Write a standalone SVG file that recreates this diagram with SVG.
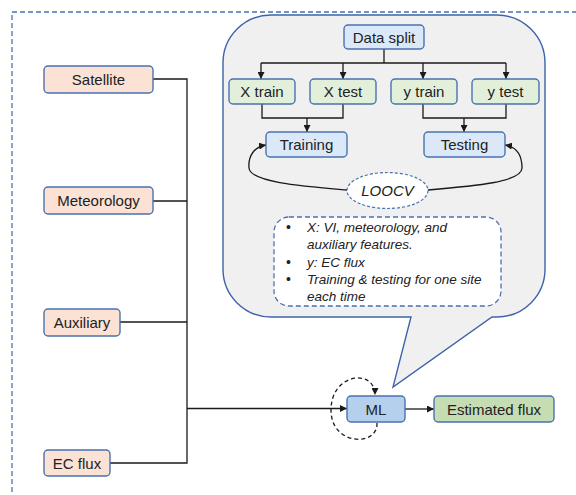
<svg xmlns="http://www.w3.org/2000/svg" width="576" height="495" viewBox="0 0 576 495">
<defs>
<marker id="arr" viewBox="0 0 10 10" refX="10" refY="5" markerWidth="7" markerHeight="7" markerUnits="userSpaceOnUse" orient="auto">
<path d="M0 0 L10 5 L0 10 Z" fill="#1a1a1a"/>
</marker>
<style>
.box{stroke:#4a72b0;stroke-width:1.4}
.src{fill:#fbe2d5}
.blu{fill:#dae8f8}
.grn{fill:#e2efda}
.t{font-family:"Liberation Sans",Arial,sans-serif;font-size:15px;fill:#222;text-anchor:middle;dominant-baseline:central}
.it{font-family:"Liberation Sans",Arial,sans-serif;font-size:13.5px;font-style:italic;fill:#222}
.ln{fill:none;stroke:#1a1a1a;stroke-width:1.3}
</style>
</defs>
<rect width="576" height="495" fill="#ffffff"/>
<rect x="12" y="12" width="620" height="600" fill="none" stroke="#4a72b0" stroke-width="1.3" stroke-dasharray="5,3"/>

<g id="callout">
<path d="M271 15 H497 A48 48 0 0 1 545 63 V269 A48 48 0 0 1 497 317 H492 L393 387 L411 317 H271 A48 48 0 0 1 223 269 V63 A48 48 0 0 1 271 15 Z" fill="#f0f0f0" stroke="#3d64a8" stroke-width="1.4"/>
</g>

<g id="connectors">
<path class="ln" d="M153 79 H187 V463 H110"/>
<path class="ln" d="M153 201 H187"/>
<path class="ln" d="M120 322 H187"/>
<path class="ln" d="M187 408.5 H347" marker-end="url(#arr)"/>
<path class="ln" d="M405 409 H434" marker-end="url(#arr)"/>
<path d="M377 423 C378 447 331 446 331 410 C331 373 375 368 375 395" fill="none" stroke="#1a1a1a" stroke-width="1.3" stroke-dasharray="4,3" marker-end="url(#arr)"/>
<path class="ln" d="M384 49 V63"/>
<path class="ln" d="M261 63 H506"/>
<path class="ln" d="M261 63 V79" marker-end="url(#arr)"/>
<path class="ln" d="M343 63 V79" marker-end="url(#arr)"/>
<path class="ln" d="M423 63 V79" marker-end="url(#arr)"/>
<path class="ln" d="M506 63 V79" marker-end="url(#arr)"/>
<path class="ln" d="M262 104 V118 H343 V104"/>
<path class="ln" d="M307 118 V132" marker-end="url(#arr)"/>
<path class="ln" d="M423 104 V118 H506 V104"/>
<path class="ln" d="M464 118 V132" marker-end="url(#arr)"/>
<path class="ln" d="M347 190 C300 186 250 182 249 168 C248 156 254 147 266 145" marker-end="url(#arr)"/>
<path class="ln" d="M428 190 C475 186 522 182 522 168 C522 156 517 147 505 145" marker-end="url(#arr)"/>
</g>

<g id="satellite"><rect class="box src" x="44" y="66" width="109" height="27" rx="4"/><text class="t" x="98.5" y="79.5">Satellite</text></g>
<g id="meteorology"><rect class="box src" x="44" y="187" width="109" height="27" rx="4"/><text class="t" x="98.5" y="200.5">Meteorology</text></g>
<g id="auxiliary"><rect class="box src" x="44" y="309" width="76" height="27" rx="4"/><text class="t" x="82" y="322.5">Auxiliary</text></g>
<g id="ecflux"><rect class="box src" x="44" y="450" width="66" height="26" rx="4"/><text class="t" x="77" y="463">EC flux</text></g>
<g id="ml"><rect class="box" fill="#b5d0ec" x="347" y="396" width="58" height="26" rx="4"/><text class="t" x="376" y="409">ML</text></g>
<g id="estimated"><rect class="box" fill="#c6dcb2" x="434" y="396" width="120" height="26" rx="4"/><text class="t" x="494" y="409">Estimated flux</text></g>

<g id="datasplit"><rect class="box blu" x="344" y="25" width="80" height="24" rx="4"/><text class="t" x="384" y="37">Data split</text></g>
<g id="xtrain"><rect class="box grn" x="229" y="79" width="66" height="25" rx="4"/><text class="t" x="262" y="91.5">X train</text></g>
<g id="xtest"><rect class="box grn" x="310" y="79" width="66" height="25" rx="4"/><text class="t" x="343" y="91.5">X test</text></g>
<g id="ytrain"><rect class="box grn" x="391" y="79" width="66" height="25" rx="4"/><text class="t" x="424" y="91.5">y train</text></g>
<g id="ytest"><rect class="box grn" x="472" y="79" width="67" height="25" rx="4"/><text class="t" x="505.5" y="91.5">y test</text></g>
<g id="training"><rect class="box blu" x="266" y="132" width="81" height="25" rx="4"/><text class="t" x="306.5" y="144.5">Training</text></g>
<g id="testing"><rect class="box blu" x="424" y="132" width="81" height="25" rx="4"/><text class="t" x="464.5" y="144.5">Testing</text></g>
<g id="loocv"><ellipse cx="387.5" cy="190.5" rx="40.5" ry="18" fill="#ffffff" stroke="#4a72b0" stroke-width="1.2" stroke-dasharray="3,2"/><text class="t" x="387.5" y="190.5" font-style="italic" font-size="14">LOOCV</text></g>
<g id="notes">
<rect x="274" y="217" width="227" height="89" rx="15" fill="#ffffff" stroke="#4a72b0" stroke-width="1.3" stroke-dasharray="5,3"/>
<g font-family="'Liberation Sans',Arial,sans-serif" font-size="14" fill="#222">
<text x="286" y="232">•</text><text x="286" y="267">•</text><text x="286" y="284">•</text>
</g>
<text class="it" x="307" y="232">X: VI, meteorology, and</text>
<text class="it" x="307" y="249">auxiliary features.</text>
<text class="it" x="307" y="267">y: EC flux</text>
<text class="it" x="307" y="284">Training &amp; testing for one site</text>
<text class="it" x="307" y="301">each time</text>
</g>
</svg>
